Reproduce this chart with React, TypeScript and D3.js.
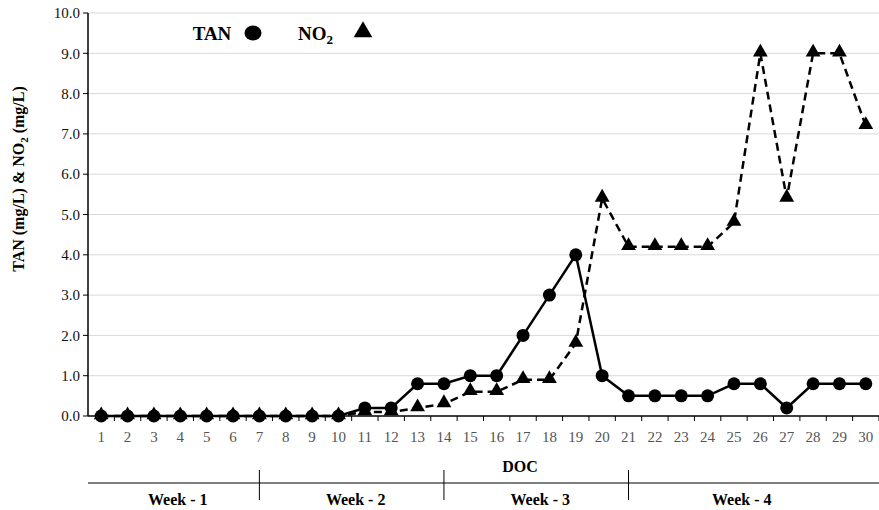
import React from "react";
import * as d3 from "d3";

const days = Array.from({ length: 30 }, (_, i) => i + 1);
const tanValues = [0, 0, 0, 0, 0, 0, 0, 0, 0, 0, 0.2, 0.2, 0.8, 0.8, 1.0, 1.0, 2.0, 3.0, 4.0, 1.0, 0.5, 0.5, 0.5, 0.5, 0.8, 0.8, 0.2, 0.8, 0.8, 0.8];
const no2Values = [0, 0, 0, 0, 0, 0, 0, 0, 0, 0, 0.1, 0.1, 0.2, 0.3, 0.6, 0.6, 0.9, 0.9, 1.8, 5.4, 4.2, 4.2, 4.2, 4.2, 4.8, 9.0, 5.4, 9.0, 9.0, 7.2];
const yTicks = [0, 1, 2, 3, 4, 5, 6, 7, 8, 9, 10];
const weeks = [
  { label: "Week - 1", start: 0, end: 7 },
  { label: "Week - 2", start: 7, end: 14 },
  { label: "Week - 3", start: 14, end: 21 },
  { label: "Week - 4", start: 21, end: 30 },
];

const W = 879, H = 510;
const left = 88, right = 879, top = 13, bottom = 416;
const font = "Liberation Serif, Times New Roman, DejaVu Serif, serif";

export default function App() {
  const x = d3.scaleBand<number>().domain(days).range([left, right]).paddingInner(0).paddingOuter(0);
  const bw = x.bandwidth();
  const cx = (d: number) => (x(d) as number) + bw / 2;
  const y = d3.scaleLinear().domain([0, 10]).range([bottom, top]);

  const tanData = days.map((d, i) => ({ d, v: tanValues[i] }));
  const no2Data = days.map((d, i) => ({ d, v: no2Values[i] }));
  const line = d3.line<{ d: number; v: number }>().x((p) => cx(p.d)).y((p) => y(p.v));
  const tri = d3.symbol().type(d3.symbolTriangle).size(95)() as string;

  const weekLineY = 483;
  const wx = (idx: number) => (idx === 0 ? left : idx >= 30 ? right : cx(idx));
  const ts = { fontFamily: font };

  return (
    <svg width={W} height={H} style={{ position: "absolute", left: 0, top: 0, fontFamily: font }}>
      <rect width={W} height={H} fill="#fff" />
      {yTicks.map((t) => (
        <g key={t}>
          {t > 0 && <line x1={left} x2={right} y1={y(t)} y2={y(t)} stroke="#d9d9d9" strokeWidth={1} />}
          <line x1={left - 5} x2={left} y1={y(t)} y2={y(t)} stroke="#000" strokeWidth={1} />
          <text style={ts} x={left - 8} y={y(t)} dy="0.35em" textAnchor="end" fontSize={15} fill="#111">
            {t.toFixed(1)}
          </text>
        </g>
      ))}
      <line x1={left} x2={left} y1={top} y2={bottom} stroke="#000" strokeWidth={1.5} />
      <line x1={left} x2={right} y1={bottom} y2={bottom} stroke="#000" strokeWidth={1.5} />
      {days.map((d) => (
        <g key={d}>
          <line x1={(x(d) as number) + bw} x2={(x(d) as number) + bw} y1={bottom} y2={bottom + 5} stroke="#000" strokeWidth={1} />
          <text style={ts} x={cx(d)} y={437} dy="0.35em" textAnchor="middle" fontSize={15} fill="#555">
            {d}
          </text>
        </g>
      ))}
      <path d={line(no2Data) as string} fill="none" stroke="#000" strokeWidth={2.5} strokeDasharray="8,5" />
      <path d={line(tanData) as string} fill="none" stroke="#000" strokeWidth={2.5} />
      {no2Data.map((p) => (
        <path key={"n" + p.d} d={tri} transform={`translate(${cx(p.d)},${y(p.v) - 1})`} fill="#000" />
      ))}
      {tanData.map((p) => (
        <circle key={"t" + p.d} cx={cx(p.d)} cy={y(p.v)} r={6.5} fill="#000" />
      ))}

      <text style={ts} x={520} y={466} dy="0.35em" textAnchor="middle" fontSize={16} fontWeight="bold">DOC</text>
      <line x1={left} x2={right} y1={weekLineY} y2={weekLineY} stroke="#000" strokeWidth={1.2} />
      {[7, 14, 21].map((k) => (
        <line key={k} x1={cx(k)} x2={cx(k)} y1={470} y2={500} stroke="#000" strokeWidth={1} />
      ))}
      {weeks.map((w) => (
        <text style={ts} key={w.label} x={(wx(w.start) + wx(w.end)) / 2 + (w.end === 30 ? -12 : 4)} y={499} dy="0.35em" textAnchor="middle" fontSize={16} fontWeight="bold">
          {w.label}
        </text>
      ))}

      <text style={ts} transform="translate(18,179) rotate(-90)" textAnchor="middle" dy="0.35em" fontSize={16} fontWeight="bold">
        TAN (mg/L) &amp; NO<tspan fontSize={11} dy="4">2</tspan><tspan dy="-4"> (mg/L)</tspan>
      </text>

      <text style={ts} x={212} y={33} dy="0.35em" textAnchor="middle" fontSize={19} fontWeight="bold">TAN</text>
      <ellipse cx={253} cy={33} rx={8.5} ry={7.5} fill="#000" />
      <text style={ts} x={298} y={33} dy="0.35em" fontSize={19} fontWeight="bold">
        NO<tspan fontSize={13} dy="4">2</tspan>
      </text>
      <path d={d3.symbol().type(d3.symbolTriangle).size(150)() as string} transform="translate(363,32)" fill="#000" />
    </svg>
  );
}
